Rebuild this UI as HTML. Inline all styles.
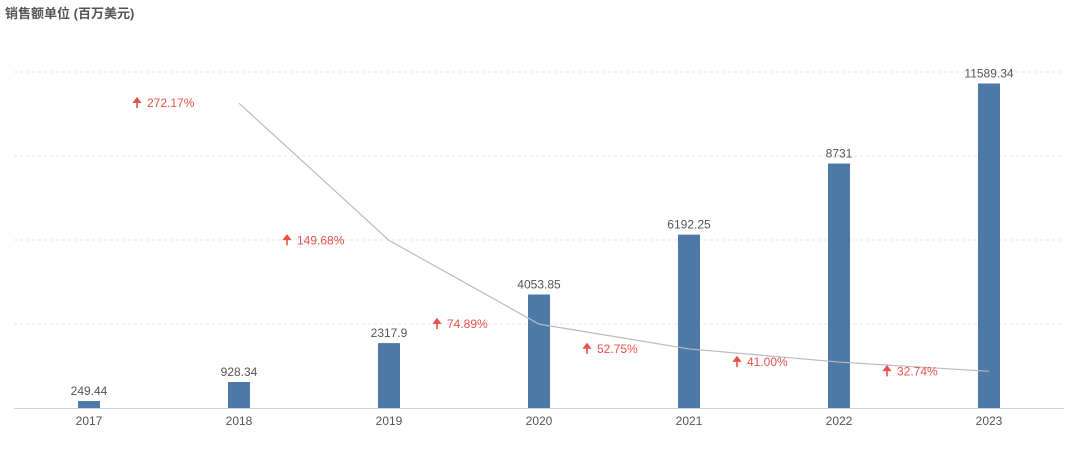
<!DOCTYPE html>
<html><head><meta charset="utf-8"><style>
body{margin:0;background:#fff;width:1080px;height:450px;overflow:hidden;font-family:"Liberation Sans","Noto Sans CJK SC",sans-serif}
</style></head><body>
<svg id="c" width="1080" height="450" xmlns="http://www.w3.org/2000/svg" font-family="Liberation Sans, Noto Sans CJK SC, sans-serif">
<text x="5" y="18" font-size="13" font-weight="bold" fill="#555">销售额单位 (百万美元)</text>
</svg>
<script>
const categories=["2017","2018","2019","2020","2021","2022","2023"];
const sales=[249.44,928.34,2317.9,4053.85,6192.25,8731,11589.34];
const salesLabels=["249.44","928.34","2317.9","4053.85","6192.25","8731","11589.34"];
const growth=[null,272.17,149.68,74.89,52.75,41.00,32.74];
const growthLabels=["","272.17%","149.68%","74.89%","52.75%","41.00%","32.74%"];
const yTicks=[0,3000,6000,9000,12000];
const svgEl=document.getElementById('c');
const NS="http://www.w3.org/2000/svg";
const plotX0=14,plotX1=1064,plotBase=408,plotTop=72;
const step=(plotX1-plotX0)/categories.length;
const xs=i=>plotX0+step*(i+0.5);
const yS=v=>plotBase-(v/12000)*(plotBase-plotTop);
const y2=v=>plotBase-(v/300)*(plotBase-plotTop);
function mk(t,a){const e=document.createElementNS(NS,t);for(const k in a)e.setAttribute(k,a[k]);svgEl.appendChild(e);return e;}
yTicks.forEach((t)=>{if(t===0)return;const g=mk('line',{x1:plotX0,x2:plotX1,y1:yS(t),y2:yS(t),stroke:'#e6e6e6','stroke-dasharray':'3,3'});

});
const ax=mk('line',{x1:plotX0,x2:plotX1,y1:plotBase+0.5,y2:plotBase+0.5,stroke:'#ccd6eb'});


categories.forEach((c,i)=>{
const h=plotBase-yS(sales[i]);
const b=mk('rect',{x:xs(i)-11,y:yS(sales[i]),width:22,height:h,fill:'#4d79a7'});


const l=mk('text',{x:xs(i),y:yS(sales[i])-6,'text-anchor':'middle','font-size':12,fill:'#555'});l.textContent=salesLabels[i];


const t=mk('text',{x:xs(i),y:plotBase+17,'text-anchor':'middle','font-size':12,fill:'#555'});t.textContent=c;


});
let pts=[];
categories.forEach((c,i)=>{if(growth[i]!=null)pts.push(xs(i)+','+y2(growth[i]));});
const ln=mk('polyline',{points:pts.join(' '),fill:'none',stroke:'#bbb','stroke-width':1.2});


categories.forEach((c,i)=>{if(growth[i]==null)return;
const cx=xs(i)-step/2+1, cy=y2(growth[i]);
const a=mk('path',{d:`M${cx-28},${cy+5} L${cx-28},${cy-3} M${cx-31},${cy-1} L${cx-28},${cy-5} L${cx-25},${cy-1} Z`,stroke:'#e8514a','stroke-width':1.6,fill:'#e8514a'});


const t=mk('text',{x:cx-18,y:cy+4,'font-size':12,fill:'#e8514a'});t.textContent=growthLabels[i];


});
</script>
</body></html>
